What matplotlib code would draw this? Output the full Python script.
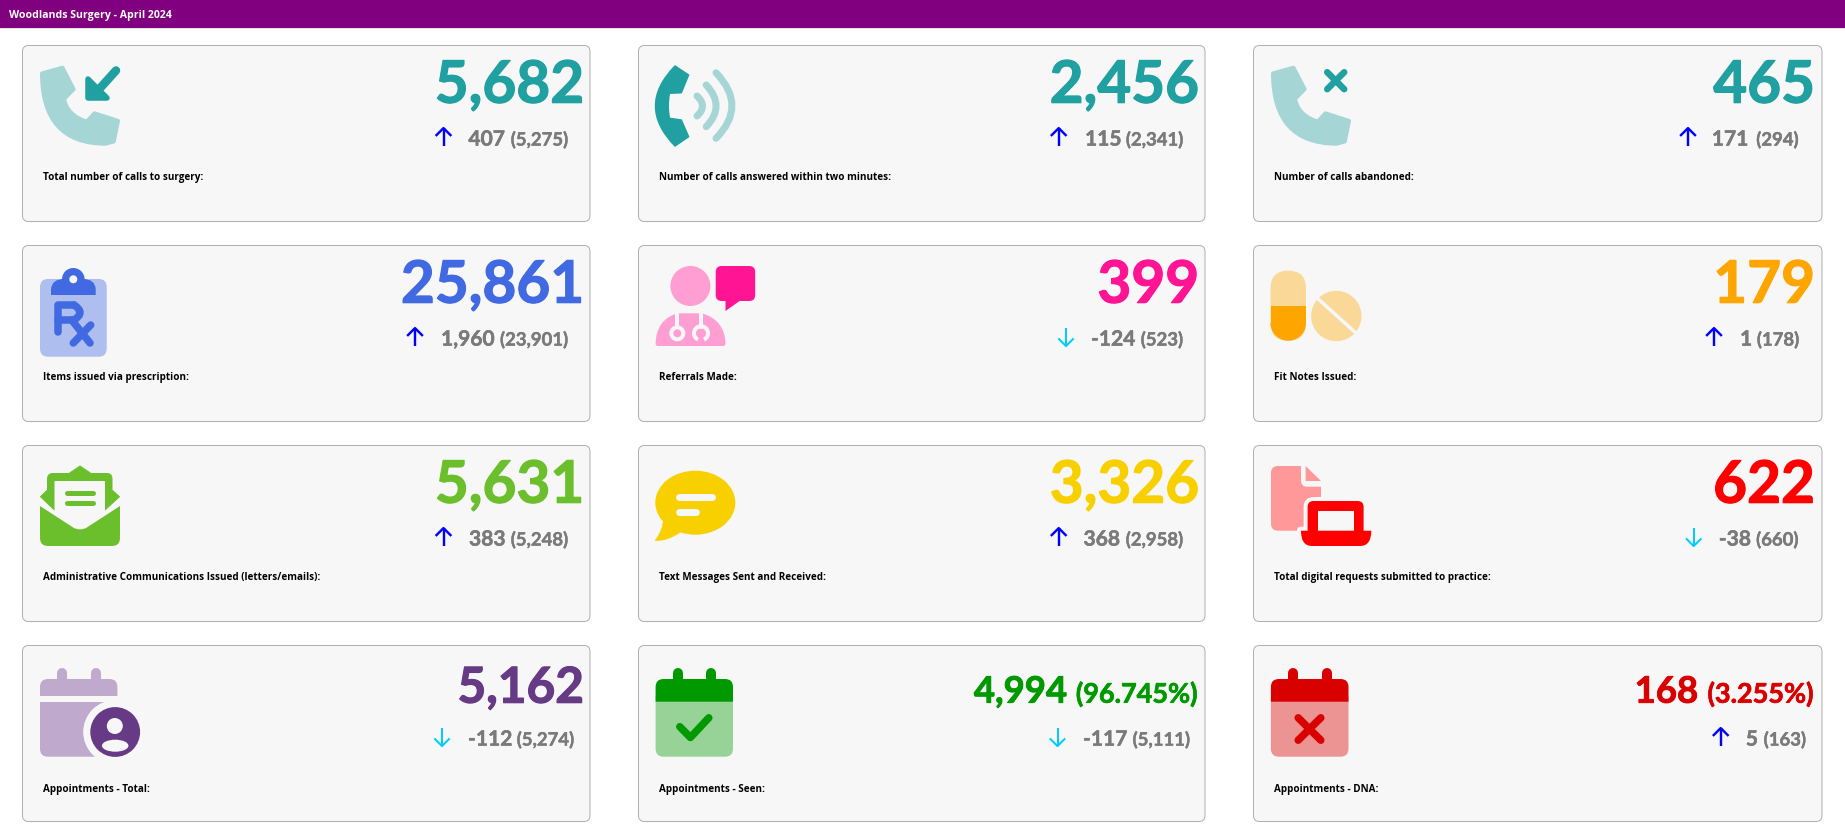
import matplotlib
matplotlib.use("Agg")
import matplotlib.pyplot as plt
import matplotlib.patheffects as pe
from matplotlib.patches import Arc, Circle, Ellipse, FancyBboxPatch, PathPatch, Polygon, Rectangle, Wedge
from matplotlib.path import Path

# -------------------------------------------------------
# DATA
# -------------------------------------------------------

page_title = "Woodlands Surgery - April 2024"

labels = [
    "Total number of calls to surgery:",
    "Number of calls answered within two minutes:",
    "Number of calls abandoned:",
    "Items issued via prescription:",
    "Referrals Made:",
    "Fit Notes Issued:",
    "Administrative Communications Issued (letters/emails):",
    "Text Messages Sent and Received:",
    "Total digital requests submitted to practice:",
    "Appointments - Total:",
    "Appointments - Seen:",
    "Appointments - DNA:",
]
values = ["5,682", "2,456", "465", "25,861", "399", "179",
          "5,631", "3,326", "622", "5,162", "4,994", "168"]
percents = [None, None, None, None, None, None,
            None, None, None, None, "(96.745%)", "(3.255%)"]
changes = ["407", "115", "171", "1,960", "-124", "1",
           "383", "368", "-38", "-112", "-117", "5"]
previous = ["(5,275)", "(2,341)", "(294)", "(23,901)", "(523)", "(178)",
            "(5,248)", "(2,958)", "(660)", "(5,274)", "(5,111)", "(163)"]

# -------------------------------------------------------
# STYLE AND LAYOUT (pixels)
# -------------------------------------------------------

PX = 0.72  # points per pixel at dpi 100
BG = "#f7f7f7"
GREY = "#7a7a7a"
UP = "#0000ff"
DOWN = "#00ccff"

colors = ["#20a0a0", "#20a0a0", "#20a0a0", "#4169e1", "#ff1493", "#ffa500",
          "#6cbf2c", "#f8d000", "#ff0000", "#663a85", "#009900", "#d90000"]

col_left = [22.5, 638.5, 1253.5]
col_right = [590, 1205, 1822]
row_top = [45.5, 245.5, 445.5, 645.5]
value_right = [584, 1199, 1815]

arrow_x = [443.5, 1058.7, 1688, 415, 1066, 1714,
           443.5, 1058.7, 1693.7, 442, 1057.5, 1720.7]
change_x = [468.4, 1085, 1711.8, 441, 1091, 1740,
            469, 1083.5, 1718.8, 468, 1083, 1745.8]
prev_right = [568, 1183, 1798.5, 568, 1183, 1799,
              568, 1183, 1798.5, 574, 1189.5, 1805.8]

fig = plt.figure(figsize=(18.45, 8.28), dpi=100, facecolor="white")
ax = fig.add_axes([0, 0, 1, 1])
ax.set_xlim(0, 1845)
ax.set_ylim(827, -1)  # everything sits one pixel lower than the read-off values
ax.axis("off")


# -------------------------------------------------------
# DRAWING HELPERS
# -------------------------------------------------------

def shape(points, color, round_px=0, z=3):
    # points are (x, y) for lines and (cx, cy, x, y) for quadratic curves
    verts = [points[0]]
    codes = [Path.MOVETO]
    for p in points[1:]:
        if len(p) == 2:
            verts.append(p)
            codes.append(Path.LINETO)
        else:
            verts += [(p[0], p[1]), (p[2], p[3])]
            codes += [Path.CURVE3, Path.CURVE3]
    verts.append(points[0])
    codes.append(Path.CLOSEPOLY)
    ax.add_patch(PathPatch(Path(verts, codes), fc=color, ec=color,
                           lw=round_px * PX, joinstyle="round", zorder=z))


def stroke(xs, ys, color, w, z=4):
    ax.plot(xs, ys, color=color, lw=w * PX, solid_capstyle="round",
            solid_joinstyle="round", zorder=z)


def arc(x0, y0, cx, cy, x1, y1, color, w, z=4):
    p = Path([(x0, y0), (cx, cy), (x1, y1)], [Path.MOVETO, Path.CURVE3, Path.CURVE3])
    ax.add_patch(PathPatch(p, fc="none", ec=color, lw=w * PX, capstyle="round", zorder=z))


def rbox(x0, y0, x1, y1, r, color, z=3, ec="none", lw=0):
    ax.add_patch(FancyBboxPatch((x0 + r, y0 + r), x1 - x0 - 2 * r, y1 - y0 - 2 * r,
                                boxstyle=f"round,pad={r},rounding_size={r}",
                                fc=color, ec=ec, lw=lw * PX, zorder=z))


def label_text(x, y, s, color, size, ha="right", heavy=0.0, family="Lato", z=5):
    t = ax.text(x, y, s, color=color, fontsize=size * PX, family=family, weight="bold",
                ha=ha, va="baseline", zorder=z)
    if heavy:
        # reference digits are a little heavier than Lato Bold
        t.set_path_effects([pe.withStroke(linewidth=heavy * PX, foreground=color)])
    return t


def phone(ox, oy, color):
    k = 76 / 80
    pts = [(0, 6), (21.6, 0), (33.3, 22.6), (23.2, 32.8), (26.6, 50.5, 47.2, 56.8),
           (55.2, 48), (80, 56), (75.6, 77.6), (67, 80), (0, 80, 0, 6)]
    out = []
    for p in pts:
        out.append(tuple(ox + 2 + v * k if i % 2 == 0 else oy + 2 + v * k
                         for i, v in enumerate(p)))
    shape(out, color, round_px=4)


# -------------------------------------------------------
# ICONS (each one sits at fixed pixels on the page)
# -------------------------------------------------------

def icon_calls_in(c):
    phone(40, 65.7, "#a5d5d5")
    shape([(87.5, 79), (87.5, 98), (107, 98)], c, round_px=5.5)
    stroke([116, 93], [70.5, 96], c, 8.5)


def icon_calls_answered(c):
    pts = [(675, 66), (688.6, 75), (681.3, 92.7), (669.4, 93.3), (667, 106, 669.4, 118.3),
           (681.3, 120), (688.6, 136.7), (675, 146), (636, 106, 675, 66)]
    shape(pts, c, round_px=1.5)
    wave = "#a5d5d5"
    arc(697, 96, 708, 106, 697, 116, wave, 7)
    arc(706.2, 85, 726, 106, 706.2, 126.7, wave, 7)
    arc(716, 72.7, 748, 106, 716, 138.3, wave, 7)


def icon_calls_abandoned(c):
    phone(1271, 65.7, "#a5d5d5")
    stroke([1327.2, 1344.2], [72.2, 89.2], c, 6.5)
    stroke([1327.2, 1344.2], [89.2, 72.2], c, 6.5)


def icon_prescription(c):
    rbox(40, 279, 106.7, 356.7, 8, "#aebfef")
    ax.add_patch(Circle((73.3, 279.3), 11.3, fc=c, ec="none", zorder=4))
    shape([(51, 295), (51, 290, 51, 289), (52, 279, 64, 279), (83, 279),
           (95, 279, 95.7, 289), (95.7, 295)], c, z=4)
    ax.add_patch(Circle((73.3, 279.3), 4, fc=BG, ec="none", zorder=5))
    stroke([57.7, 57.7, 74], [331.5, 305, 305], c, 7.5)
    stroke([57.7, 74], [320, 320], c, 7.5)
    arc(74, 305, 86, 312.5, 74, 320, c, 7.5)
    stroke([71.7, 90], [320, 343], c, 7.5)
    stroke([90.7, 73.3], [325, 343], c, 7.5)


def icon_referrals(c):
    light = "#ff9ed3"
    ax.add_patch(Ellipse((690.4, 286), 40, 40, fc=light, ec="none", zorder=3))
    shape([(655.6, 344), (656, 320, 677, 313.3), (702, 313.3), (725, 320, 725.5, 344),
           (725.5, 346, 723, 346), (658, 346), (655.6, 346, 655.6, 344)], light)
    rbox(715.7, 266, 755.2, 301, 6, c)
    shape([(725.5, 300), (725.5, 311), (741, 300)], c)
    stroke([677.3, 677.3], [313, 327], BG, 4)
    stroke([701, 701], [313, 327], BG, 4)
    ax.add_patch(Circle((677.3, 333.3), 6, fc="none", ec=BG, lw=4 * PX, zorder=4))
    ax.add_patch(Arc((701, 333.3), 14, 14, theta1=115, theta2=425, ec=BG, lw=4 * PX, zorder=4))


def icon_fit_notes(c):
    light = "#fad898"
    rbox(1270.5, 270.7, 1306, 340.7, 17.7, light)
    ax.add_patch(Rectangle((1270.5, 306), 35.5, 17, fc=c, ec="none", zorder=4))
    ax.add_patch(Wedge((1288.25, 323), 17.75, 0, 180, fc=c, ec="none", zorder=4))
    ax.add_patch(Circle((1336.3, 316), 25.2, fc=light, ec="none", zorder=3))
    stroke([1316, 1357], [297, 334], BG, 3.5)


def icon_admin(c):
    shape([(80, 466), (91, 473.5), (107, 473.5), (112, 473.5, 112, 479), (112, 490), (119.5, 496.7),
           (105, 510), (54.5, 510), (40.5, 496.7), (47.5, 490), (47.5, 479), (47.5, 473.5, 53, 473.5),
           (69, 473.5)], c, round_px=1)
    ax.add_patch(Polygon([(54.5, 481), (105, 481), (105, 513), (80, 531), (54.5, 513)],
                         fc=BG, ec="none", zorder=4))
    stroke([67, 93], [493.3, 493.3], c, 5)
    stroke([67, 93], [503.3, 503.3], c, 5)
    shape([(40, 506), (74, 528), (80, 530.7, 86, 528), (120, 506), (120, 538),
           (120, 546, 112, 546), (48, 546), (40, 546, 40, 538)], c, z=5)


def icon_texts(c):
    ax.add_patch(Ellipse((695.3, 502.7), 80, 64, fc=c, ec="none", zorder=3))
    shape([(663.3, 520), (663, 530, 655, 540.7), (668, 541, 680.5, 532)], c, round_px=0.5)
    stroke([679, 712], [497.3, 497.3], BG, 7)
    stroke([679, 696], [512.3, 512.3], BG, 7)


def icon_digital(c):
    light = "#ff9999"
    shape([(1278, 466), (1301, 466), (1301, 480), (1301, 486.7, 1307, 486.7), (1321, 486.7),
           (1321, 530.7), (1278, 530.7), (1271, 530.7, 1271, 523.7), (1271, 473), (1271, 466, 1278, 466)],
          light)
    shape([(1305.6, 466), (1321, 481), (1305.6, 481)], light)
    rbox(1307.6, 501, 1363.6, 540, 6, BG, z=4, ec=BG, lw=8)
    rbox(1301, 530.7, 1371.3, 546, 0.1, BG, z=4, ec=BG, lw=8)
    rbox(1307.6, 501, 1363.6, 535, 6, c, z=5)
    ax.add_patch(Rectangle((1318.4, 511), 35.6, 20, fc=BG, ec="none", zorder=6))
    shape([(1301, 530.7), (1371.3, 530.7), (1371.3, 546, 1360, 546), (1312, 546),
           (1301, 546, 1301, 530.7)], c, z=6)


def calendar_body(x0, x1, tabs, head_color, body_color):
    rbox(x0, 690, x1, 756.7, 8, body_color)
    shape([(x0, 701.7), (x0, 687), (x0, 679, x0 + 8, 679), (x1 - 8, 679), (x1, 679, x1, 687),
           (x1, 701.7)], head_color, z=4)
    for tab in tabs:
        stroke([tab, tab], [673, 682], head_color, 10, z=3)


def icon_appts_total(c):
    light = "#bfa9cc"
    calendar_body(40, 117.4, [62, 95.6], light, light)
    ax.add_patch(Rectangle((40, 695.7), 78, 6, fc=BG, ec="none", zorder=5))
    ax.add_patch(Circle((115.2, 732), 32, fc=BG, ec="none", zorder=5))
    ax.add_patch(Circle((115.2, 732), 24.9, fc=c, ec="none", zorder=6))
    ax.add_patch(Circle((114.8, 726), 8, fc=BG, ec="none", zorder=7))
    ax.add_patch(Ellipse((115.2, 745.7), 26.5, 12, fc=BG, ec="none", zorder=7))


def icon_appts_seen(c):
    calendar_body(655.6, 733, [677.7, 711], c, "#97d397")
    stroke([679.8, 690.4, 708.8], [726.7, 737.5, 717.8], c, 7.5, z=5)


def icon_appts_dna(c):
    calendar_body(1270.9, 1348.5, [1293, 1326.5], c, "#ec9393")
    stroke([1298.2, 1320.8], [717.8, 740.2], c, 7.5, z=5)
    stroke([1298.2, 1320.8], [740.2, 717.8], c, 7.5, z=5)


icons = [icon_calls_in, icon_calls_answered, icon_calls_abandoned,
         icon_prescription, icon_referrals, icon_fit_notes,
         icon_admin, icon_texts, icon_digital,
         icon_appts_total, icon_appts_seen, icon_appts_dna]

# -------------------------------------------------------
# HEADER
# -------------------------------------------------------

ax.add_patch(Rectangle((0, -2), 1845, 30, fc="#800080", ec="none", zorder=1))
ax.add_patch(Rectangle((0, 28), 1845, 1.2, fc="#e4e4e4", ec="none", zorder=1))
ax.text(9, 17, page_title, color="white", fontsize=10.5 * PX, family="Open Sans",
        weight="bold", va="baseline", ha="left")

# -------------------------------------------------------
# CARDS
# -------------------------------------------------------

for i, label in enumerate(labels):
    row, col = divmod(i, 3)
    left, right, top = col_left[col], col_right[col], row_top[row]
    c = colors[i]

    rbox(left, top, right, top + 176, 6, BG, z=2, ec="#b0b0b0", lw=1)
    icons[i](c)

    base = top + 57.2
    if percents[i] is not None:
        # percentage cards use the smaller number with the share next to it
        pct_right = 1197.5 if i == 10 else 1813.5
        num_right = 1067 if i == 10 else 1698
        label_text(pct_right, base, percents[i], c, 27, heavy=0.7)
        label_text(num_right, base, values[i], c, 36.5, heavy=0.9)
    else:
        size = 49.5 if row == 3 else 58.5
        label_text(value_right[col], base, values[i], c, size, heavy=1.2)

    base = top + 100.1
    label_text(change_x[i], base, changes[i], GREY, 21, ha="left", heavy=0.5)
    label_text(prev_right[i], base, previous[i], GREY, 18.5, heavy=0.4)

    # trend arrow
    x = arrow_x[i]
    y0, y1 = base - 17.5, base + 0.5
    if changes[i].startswith("-"):
        ax.plot([x, x], [y0, y1], color=DOWN, lw=2 * PX, solid_capstyle="butt", zorder=4)
        ax.plot([x - 7, x, x + 7], [y1 - 7, y1, y1 - 7], color=DOWN, lw=2 * PX, zorder=4)
    else:
        ax.plot([x, x], [y0, y1], color=UP, lw=2.4 * PX, solid_capstyle="butt", zorder=4)
        ax.plot([x - 7, x, x + 7], [y0 + 7, y0, y0 + 7], color=UP, lw=2.4 * PX, zorder=4)

    label_y = top + (145.8 if row == 3 else 133.5)
    ax.text(left + 20.5, label_y, label, color="black", fontsize=9.9 * PX,
            family="Open Sans", weight="bold", ha="left", va="baseline", zorder=5)

fig.savefig("out.png", dpi=100, facecolor="white")
